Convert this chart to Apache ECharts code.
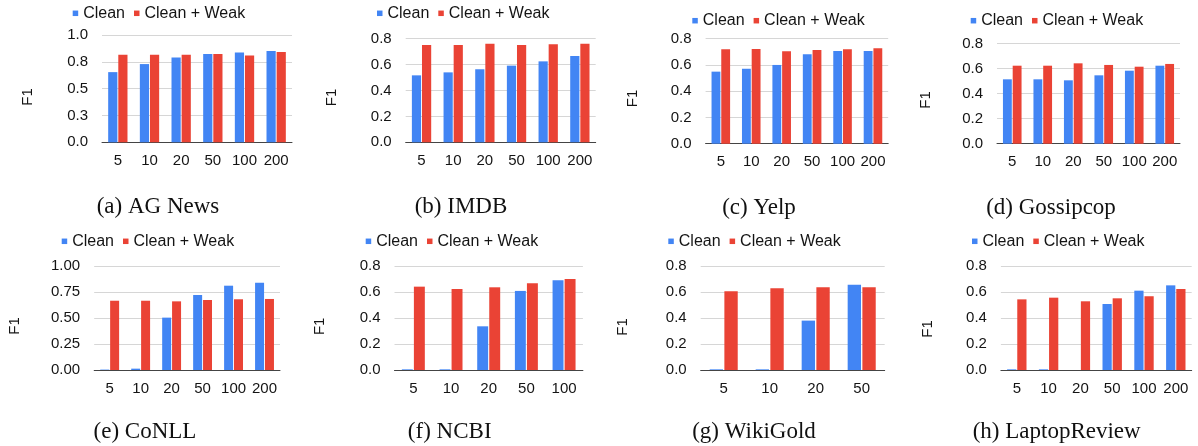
<!DOCTYPE html>
<html>
<head>
<meta charset="utf-8">
<script src="https://cdn.jsdelivr.net/npm/echarts@6/dist/echarts.min.js"></script>
<style>
html,body{margin:0;padding:0;background:#fff;}
#chart{width:1198px;height:446px;}
</style>
</head>
<body>
<div id="chart"></div>
<script>
// ---- data ----
const seriesNames = ['Clean', 'Clean + Weak'];
const cats6 = ['5', '10', '20', '50', '100', '200'];
const cats5 = ['5', '10', '20', '50', '100'];
const cats4 = ['5', '10', '20', '50'];

const agClean = [0.654, 0.729, 0.791, 0.822, 0.838, 0.850];
const agWeak  = [0.816, 0.816, 0.816, 0.822, 0.810, 0.841];
const imdbClean = [0.517, 0.540, 0.564, 0.592, 0.625, 0.666];
const imdbWeak  = [0.751, 0.751, 0.761, 0.751, 0.757, 0.761];
const yelpClean = [0.549, 0.571, 0.600, 0.681, 0.706, 0.706];
const yelpWeak  = [0.719, 0.721, 0.704, 0.714, 0.719, 0.727];
const gossipClean = [0.515, 0.515, 0.507, 0.547, 0.584, 0.624];
const gossipWeak  = [0.624, 0.624, 0.643, 0.630, 0.616, 0.638];
const conllClean = [0.004, 0.013, 0.505, 0.723, 0.813, 0.842];
const conllWeak  = [0.668, 0.668, 0.662, 0.675, 0.682, 0.685];
const ncbiClean = [0.005, 0.005, 0.337, 0.610, 0.692];
const ncbiWeak  = [0.643, 0.625, 0.638, 0.669, 0.702];
const wikiClean = [0.005, 0.005, 0.381, 0.658];
const wikiWeak  = [0.607, 0.630, 0.638, 0.638];
const laptopClean = [0.005, 0.005, 0, 0.509, 0.612, 0.653];
const laptopWeak  = [0.545, 0.558, 0.530, 0.553, 0.569, 0.625];

const captions = ['(a) AG News', '(b) IMDB', '(c) Yelp', '(d) Gossipcop',
                  '(e) CoNLL', '(f) NCBI', '(g) WikiGold', '(h) LaptopReview'];
const yMaxes = [1, 0.8, 0.8, 0.8, 1, 0.8, 0.8, 0.8];
const yIntervals = [0.25, 0.2, 0.2, 0.2, 0.25, 0.2, 0.2, 0.2];
const yDecimals = [1, 1, 1, 1, 2, 1, 1, 1];

const panels = [
  {cats: cats6, clean: agClean, weak: agWeak},
  {cats: cats6, clean: imdbClean, weak: imdbWeak},
  {cats: cats6, clean: yelpClean, weak: yelpWeak},
  {cats: cats6, clean: gossipClean, weak: gossipWeak},
  {cats: cats6, clean: conllClean, weak: conllWeak},
  {cats: cats5, clean: ncbiClean, weak: ncbiWeak},
  {cats: cats4, clean: wikiClean, weak: wikiWeak},
  {cats: cats6, clean: laptopClean, weak: laptopWeak}
];

// ---- layout (pixels) ----
const layout = [
  {left: 102,   width: 190,   top: 35,    height: 107.3, legX: 72.7,  legY: 13.3, capX: 158,   capY: 207, f1X: 28,  f1Y: 97},
  {left: 405.7, width: 190,   top: 38.7,  height: 103.6, legX: 377,   legY: 13.3, capX: 461,   capY: 207, f1X: 332, f1Y: 97.5},
  {left: 705.6, width: 182.6, top: 38.7,  height: 105,   legX: 692.3, legY: 20.7, capX: 759,   capY: 208, f1X: 633, f1Y: 98.5},
  {left: 997,   width: 183,   top: 43.7,  height: 100,   legX: 970.7, legY: 20.7, capX: 1051,  capY: 208, f1X: 926, f1Y: 100},
  {left: 94.2,  width: 185.8, top: 266.3, height: 103.7, legX: 61.7,  legY: 241.3, capX: 145,  capY: 432, f1X: 15,  f1Y: 326},
  {left: 394.5, width: 188.4, top: 266.3, height: 103.7, legX: 365.7, legY: 241.3, capX: 449.7, capY: 432, f1X: 320, f1Y: 326.3},
  {left: 700.7, width: 184,   top: 266.3, height: 103.7, legX: 668.3, legY: 241.3, capX: 754,  capY: 432, f1X: 623, f1Y: 327},
  {left: 1000.9,width: 190.8, top: 266.3, height: 103.7, legX: 972,   legY: 241.3, capX: 1056.7, capY: 432, f1X: 928, f1Y: 329}
];

const BLUE = '#4285F4';
const RED = '#EA4335';
const TXT = '#141414';
const SANS = '"Liberation Sans", Arial, sans-serif';
const SERIF = '"Liberation Serif", "Times New Roman", serif';

const grid = [], xAxis = [], yAxis = [], series = [], legend = [], graphic = [];

panels.forEach((p, i) => {
  const L = layout[i];
  grid.push({left: L.left, top: L.top, width: L.width, height: L.height, containLabel: false});
  xAxis.push({
    type: 'category', gridIndex: i, data: p.cats,
    axisLine: {show: true, lineStyle: {color: '#444', width: 1}},
    axisTick: {show: false},
    axisLabel: {color: TXT, fontFamily: SANS, fontSize: 15, margin: 11, interval: 0, hideOverlap: false}
  });
  const dec = yDecimals[i];
  yAxis.push({
    type: 'value', gridIndex: i, min: 0, max: yMaxes[i], interval: yIntervals[i],
    axisLine: {show: false}, axisTick: {show: false},
    splitLine: {lineStyle: {color: '#d6d6d6', width: 1}},
    axisLabel: {color: TXT, fontFamily: SANS, fontSize: 15, margin: 14,
      formatter: v => v.toFixed(dec)}
  });
  series.push({
    name: seriesNames[0], type: 'bar', xAxisIndex: i, yAxisIndex: i, data: p.clean,
    itemStyle: {color: BLUE}, barGap: '10%', barCategoryGap: '39%', animation: false
  });
  series.push({
    name: seriesNames[1], type: 'bar', xAxisIndex: i, yAxisIndex: i, data: p.weak,
    itemStyle: {color: RED}, barGap: '10%', barCategoryGap: '39%', animation: false
  });
  legend.push({
    left: L.legX, top: L.legY - 8, orient: 'horizontal',
    data: [
      {name: seriesNames[0], itemStyle: {color: BLUE}},
      {name: seriesNames[1], itemStyle: {color: RED}}
    ],
    icon: 'rect', itemWidth: 5.5, itemHeight: 5.5, itemGap: 9,
    textStyle: {color: TXT, fontFamily: SANS, fontSize: 16},
    selectedMode: false, padding: 0
  });
  graphic.push({
    type: 'text', x: L.capX, y: L.capY,
    style: {text: captions[i], font: '23px ' + SERIF, fill: '#111', align: 'center', verticalAlign: 'middle'}
  });
  graphic.push({
    type: 'text', x: L.f1X, y: L.f1Y, rotation: Math.PI / 2,
    style: {text: 'F1', font: '15px ' + SANS, fill: TXT, align: 'center', verticalAlign: 'middle'}
  });
});

const chart = echarts.init(document.getElementById('chart'), null, {renderer: 'canvas'});
chart.setOption({
  animation: false,
  backgroundColor: '#fff',
  grid, xAxis, yAxis, series, legend, graphic
});
</script>
</body>
</html>
